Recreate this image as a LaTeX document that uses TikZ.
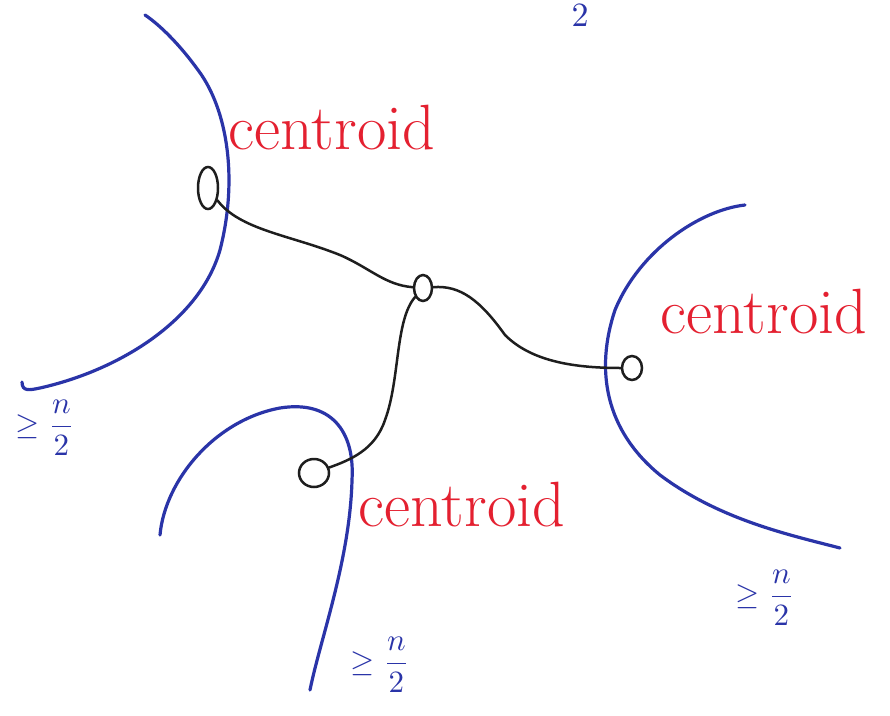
\documentclass[tikz,border=0pt]{standalone}
\usetikzlibrary{shapes.geometric}
\definecolor{penred}{RGB}{228,32,48}
\definecolor{penblue}{RGB}{42,52,168}
\definecolor{penblack}{RGB}{30,30,30}
\newcommand{\halfn}{\scalebox{3.1}{$\geq\displaystyle\frac{n}{2}$}}
\begin{document}
\begin{tikzpicture}[x=1pt,y=-1pt,
  bluepen/.style={draw=penblue,line width=3.2pt,line cap=round,line join=round},
  blackpen/.style={draw=penblack,line width=2.5pt,line cap=round},
  vertex/.style={ellipse,draw=penblack,line width=2.5pt,inner sep=0pt},
  centroidlabel/.style={text=penred,font=\fontsize{64}{64}\selectfont,inner sep=0pt},
  halflabel/.style={text=penblue,inner sep=0pt}]
\useasboundingbox (0,0) rectangle (890,715);
\fill[white] (0,0) rectangle (890,715);
% top partial fraction
\node[text=penblue,inner sep=0pt,font=\normalsize] (toptwo) at (580,16) {\scalebox{3.4}{$2$}};
% blue region boundaries
\draw[bluepen] (22,382) .. controls (22,392) and (30,390) .. (40,388)
  .. controls (120,370) and (200,320) .. (220,250)
  .. controls (238,180) and (228,110) .. (198,70)
  .. controls (180,45) and (160,25) .. (145,15);
\draw[bluepen] (745,205) .. controls (700,210) and (640,250) .. (615,310)
  .. controls (595,370) and (605,430) .. (660,475)
  .. controls (720,520) and (790,535) .. (840,548);
\draw[bluepen] (160,535) .. controls (165,480) and (215,420) .. (280,408)
  .. controls (330,400) and (355,430) .. (352,480)
  .. controls (350,560) and (320,640) .. (310,690);
% vertices
\node[vertex,minimum width=20pt,minimum height=42pt] (a) at (208,188) {};
\node[vertex,minimum width=18pt,minimum height=26pt] (c) at (423,288) {};
\node[vertex,minimum width=20pt,minimum height=24pt] (r) at (632,368) {};
\node[vertex,minimum width=30pt,minimum height=28pt] (b) at (314,473) {};
% tree edges
\draw[blackpen] (a) .. controls (240,230) and (290,235) .. (340,255)
  .. controls (370,268) and (385,285) .. (c);
\draw[blackpen] (c) .. controls (460,285) and (480,300) .. (505,335)
  .. controls (530,360) and (570,368) .. (r);
\draw[blackpen] (c) .. controls (395,320) and (400,380) .. (385,420)
  .. controls (375,450) and (350,460) .. (b);
% labels
\node[centroidlabel] (l1) at (332,128) {centroid};
\node[centroidlabel] (l2) at (764,312) {centroid};
\node[centroidlabel] (l3) at (462,505) {centroid};
\node[halflabel] (h1) at (45,428) {\halfn};
\node[halflabel] (h2) at (765,598) {\halfn};
\node[halflabel] (h3) at (380,665) {\halfn};
\end{tikzpicture}
\end{document}
